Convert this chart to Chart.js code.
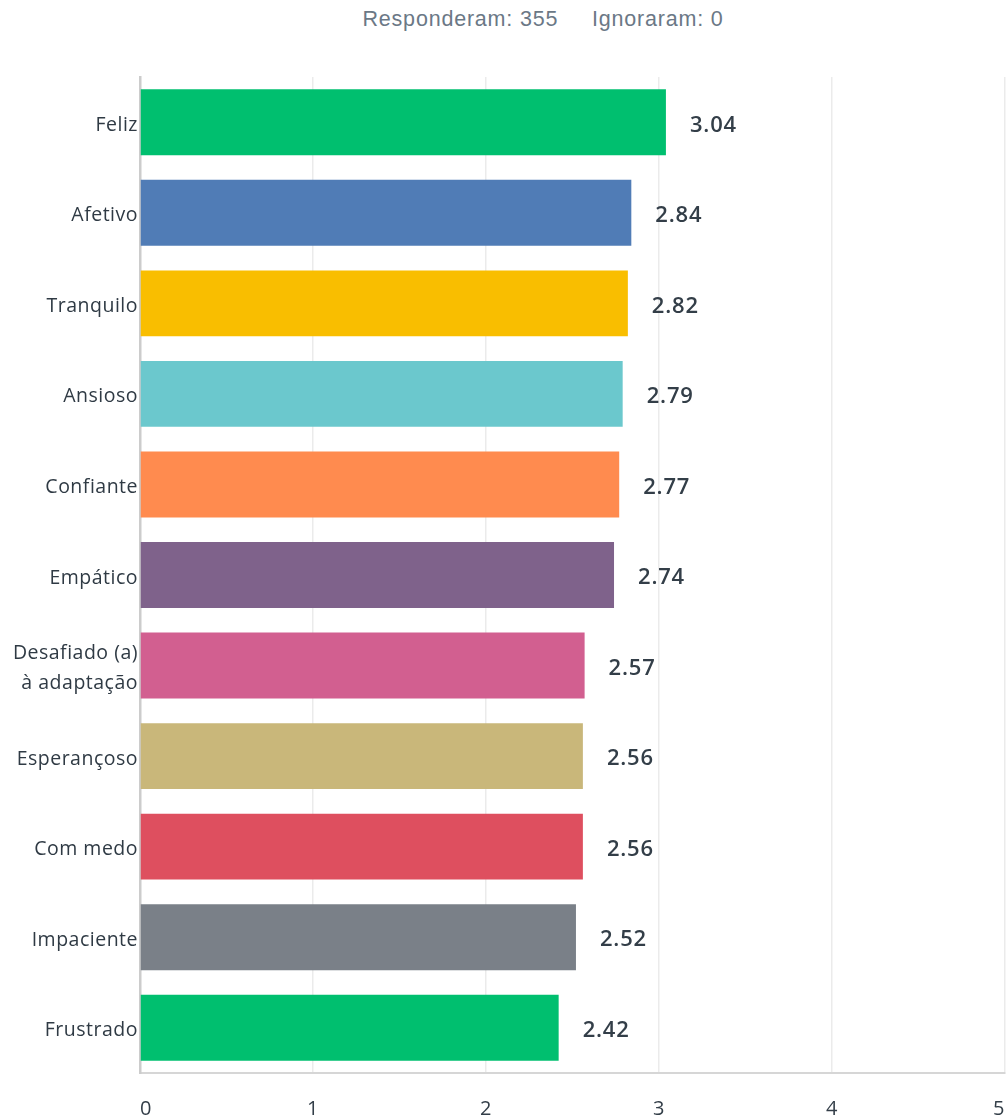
<!DOCTYPE html>
<html>
<head>
<meta charset="utf-8">
<script src="https://cdn.jsdelivr.net/npm/chart.js@4"></script>
<style>
html,body{margin:0;padding:0;background:#fff;}
#wrap{position:relative;width:1008px;height:1120px;}
#title{position:absolute;top:7px;left:0;width:1086px;text-align:center;font-family:"Liberation Sans",Arial,sans-serif;font-size:21.5px;letter-spacing:0.8px;color:#6b7886;white-space:pre;}
canvas{position:absolute;top:0;left:0;}
</style>
</head>
<body>
<div id="wrap">
<div id="title">Responderam: 355     Ignoraram: 0</div>
<canvas id="c" width="1008" height="1120"></canvas>
</div>
<script>
const categories = ["Feliz","Afetivo","Tranquilo","Ansioso","Confiante","Empático",["Desafiado (a)","à adaptação"],"Esperançoso","Com medo","Impaciente","Frustrado"];
const values = [3.04,2.84,2.82,2.79,2.77,2.74,2.57,2.56,2.56,2.52,2.42];
const barColors = ["#00BF6F","#507CB6","#F9BE00","#6BC8CD","#FF8B4F","#7F628B","#D25F90","#C9B77A","#DE4F5F","#7A8088","#00BF6F"];
const xTicks = [0,1,2,3,4,5];

const spacing = {
  id:'spacing',
  beforeDraw(chart){ chart.ctx.letterSpacing = '0.5px'; }
};

const valueLabels = {
  id:'valueLabels',
  afterDatasetsDraw(chart){
    const ctx = chart.ctx;
    const meta = chart.getDatasetMeta(0);
    ctx.save();
    ctx.letterSpacing = '0.8px';
    ctx.font = '600 22px "Open Sans", sans-serif';
    ctx.fillStyle = '#333e48';
    ctx.textBaseline = 'middle';
    ctx.textAlign = 'left';
    meta.data.forEach((bar,i)=>{
      ctx.fillText(values[i].toFixed(2), bar.x + 24, bar.y + 3);
    });
    ctx.restore();
  }
};

new Chart(document.getElementById('c'), {
  type:'bar',
  data:{
    labels:categories,
    datasets:[{data:values, backgroundColor:barColors, borderWidth:0, barPercentage:0.728, categoryPercentage:1}]
  },
  options:{
    indexAxis:'y',
    responsive:false,
    animation:false,
    layout:{padding:{top:77,right:3,left:0,bottom:0}},
    plugins:{legend:{display:false}, tooltip:{enabled:false}, title:{display:false}},
    scales:{
      x:{
        min:0,max:5,
        afterBuildTicks(axis){ axis.ticks = xTicks.map(v=>({value:v})); },
        afterFit(axis){ axis.height = 47; axis.paddingLeft = 0; axis.paddingRight = 0; },
        grid:{color:'#ebebeb', lineWidth:1.5, drawTicks:false},
        border:{display:true, color:'#d6d6d6', width:2},
        ticks:{padding:24, align:'inner', color:'#333e48', font:{family:'"Open Sans",sans-serif', size:20}}
      },
      y:{
        afterFit(axis){ axis.width = 140; axis.paddingTop = 0; axis.paddingBottom = 0; },
        grid:{display:false, drawTicks:false},
        border:{display:true, color:'#cccccc', width:2.5},
        ticks:{padding:2, labelOffset:3, color:'#2f3a44', font:{family:'"Open Sans",sans-serif', size:19.5, lineHeight:1.5}}
      }
    }
  },
  plugins:[spacing, valueLabels]
});
</script>
</body>
</html>
